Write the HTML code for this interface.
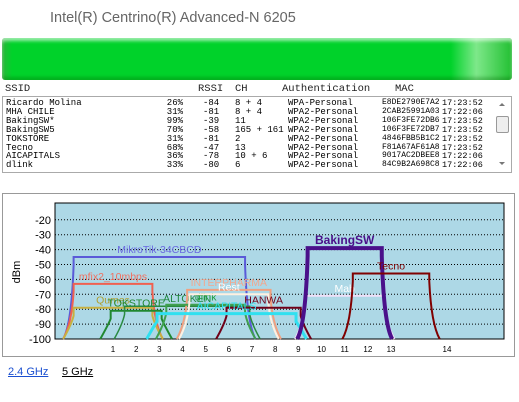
<!DOCTYPE html>
<html><head><meta charset="utf-8">
<style>
body{margin:0;width:519px;height:402px;background:#fff;position:relative;overflow:hidden;font-family:"Liberation Sans",sans-serif}
.abs{position:absolute}
#list{left:2px;top:96px;width:510px;height:77px;border:1px solid #aaa;box-sizing:border-box;font-family:"Liberation Mono",monospace;font-size:9px;line-height:8.9px}
.row{position:absolute;left:0;width:490px;height:9px;white-space:pre}
.row span{position:absolute;top:0}
#hdr{left:0;top:83px;font-family:"Liberation Mono",monospace;font-size:10.5px;color:#222}
#hdr span{position:absolute;white-space:pre}
</style></head><body>
<div class="abs" style="left:50px;top:10px;font-size:14.5px;color:#666">Intel(R) Centrino(R) Advanced-N 6205</div>
<div class="abs" style="left:2px;top:38px;width:510px;height:42px;border-radius:3px;background:linear-gradient(to right,#2bb53a 0%,#00d22a 2%,#00d22a 88%,#7ee88a 93%,#22c032 100%);box-shadow:inset 0 3px 3px rgba(255,255,255,.6),inset 0 -3px 3px rgba(0,100,0,.3)"></div>
<div id="hdr" class="abs">
<span style="left:5px">SSID</span><span style="left:198px">RSSI</span><span style="left:235px">CH</span><span style="left:282px">Authentication</span><span style="left:395px">MAC</span></div>
<div id="list" class="abs"></div>
<div class="abs" style="left:494px;top:98px;width:16px;height:73px">
<div style="position:absolute;left:5px;top:5px;width:0;height:0;border-left:3px solid transparent;border-right:3px solid transparent;border-bottom:3px solid #777"></div>
<div style="position:absolute;left:2px;top:18px;width:11px;height:15px;border:1px solid #999;border-radius:2px;background:#eee"></div>
<div style="position:absolute;left:5px;top:64px;width:0;height:0;border-left:3px solid transparent;border-right:3px solid transparent;border-top:3px solid #777"></div>
</div>
<svg class="abs" style="left:0;top:0" width="519" height="402" id="chart"></svg>
<div class="abs" style="left:8px;top:366px;font-size:11px;color:#1a4fd0;text-decoration:underline">2.4 GHz</div>
<div class="abs" style="left:62px;top:366px;font-size:11px;color:#000;text-decoration:underline">5 GHz</div>
<script>
const rowSsid=["Ricardo Molina","MHA CHILE","BakingSW*","BakingSW5","TOKSTORE","Tecno","AICAPITALS","dlink"];
const rowPct=["26%","31%","99%","70%","31%","68%","36%","33%"];
const rowRssi=["-84","-81","-39","-58","-81","-47","-78","-80"];
const rowCh=["8 + 4","8 + 4","11","165 + 161","2","13","10 + 6","6"];
const rowAuth=["WPA-Personal","WPA2-Personal","WPA2-Personal","WPA2-Personal","WPA2-Personal","WPA2-Personal","WPA2-Personal","WPA2-Personal"];
const rowMac=["E8DE2790E7A2","2CAB25991A03","106F3FE72DB6","106F3FE72DB7","4846FBB5B1C2","F81A67AF61A8","9017AC2DBEE8","84C9B2A698C8"];
const rowTime=["17:23:52","17:22:06","17:23:52","17:23:52","17:23:52","17:23:52","17:22:06","17:22:06"];
const list=document.getElementById('list');
for(let i=0;i<rowSsid.length;i++){
 const r=document.createElement('div');r.className='row';r.style.top=(2+i*8.9)+'px';
 
 
 r.innerHTML=`<span style="left:3px">${rowSsid[i]}</span><span style="left:160px;width:20px;text-align:right">${rowPct[i]}</span><span style="left:200px">${rowRssi[i]}</span><span style="left:232px">${rowCh[i]}</span><span style="left:285px">${rowAuth[i]}</span><span style="left:379px;font-size:8px">${rowMac[i]}</span><span style="left:439px;font-size:8.5px">${rowTime[i]}</span>`;
 list.appendChild(r);
}
// chart data
const yTicks=[-20,-30,-40,-50,-60,-70,-80,-90,-100];
const chTicks=[1,2,3,4,5,6,7,8,9,10,11,12,13,14];
const netNames=["MikroTik-34CBCD","mfix2_10mbps","Qumes","TOKSTORE","ALTOKEN","INTERPHARMA","dlink","Rest","HANWA","AICAPITALS","Mab","BakingSW","Tecno"];
const netCenter=[3,1,1,2,4.2,6,5,6,7.5,5.9,11,11,13];
const netHalf=[3.7,1.7,1.7,1.1,2.7,1.8,1.7,1.7,1.6,3.0,1.7,1.6,1.65];
const netRssi=[-45,-63,-79,-81,-78,-67,-77,-70,-79,-83,-71,-39,-56];
const netColor=["#5a5ad8","#f06050","#c8b040","#208830","#2a8a40","#f0a080","#40a050","#fff0e0","#700018","#30e0f0","#f0e0f8","#4a108a","#800000"];
const netWidth=[2,2,2,2,1.5,2,2,2,2,3,2,4,2];
const labelColor=["#6a6ae0","#f07060","#b0a030","#208830","#208840","#f0a890","#20a040","#fff","#700018","#30e0f0","#fff","#4a108a","#800000"];
const L=55,T=203,R=504,B=339;
const yS=v=>B+(v+100)*(-14.9/10);
const xS=c=>c==14?447:113+(c-1)*23.17;
const svg=document.getElementById('chart');
const NS='http://www.w3.org/2000/svg';
function el(t,a){const e=document.createElementNS(NS,t);for(const k in a)e.setAttribute(k,a[k]);svg.appendChild(e);return e;}
const frame=el('rect',{x:2.5,y:193.5,width:512,height:163,fill:'#fff',stroke:'#999'});


const plot=el('rect',{x:L,y:T,width:R-L,height:B-T,fill:'#add8e6',stroke:'#000','stroke-width':1});


yTicks.forEach(v=>{
 const y=yS(v);
 if(v>-100){const g=el('line',{x1:L,x2:R,y1:y,y2:y,stroke:'#000','stroke-dasharray':'1,2'});
 
 }
 const t=el('text',{x:L-4,y:y+4,'text-anchor':'end','font-size':'11','font-family':'Liberation Sans'});t.textContent=v;
 
 
});
const yt=el('text',{x:20,y:272,'font-size':'11','font-family':'Liberation Sans',transform:'rotate(-90 20 272)','text-anchor':'middle'});yt.textContent='dBm';


chTicks.forEach(c=>{const t=el('text',{x:xS(c),y:352,'text-anchor':'middle','font-size':'8','font-family':'Liberation Sans'});t.textContent=c;
 
 });
for(let i=0;i<netNames.length;i++){
 const c=netCenter[i],h=netHalf[i],yt2=yS(netRssi[i]),yb=B;
 const x1=xS(c-h-0.45),x2=xS(c-h),x3=xS(c+h),x4=xS(c+h+0.45);
 const d=`M${x1},${yb} Q${x2-2},${yb-15} ${x2},${yt2+8} L${x2},${yt2} L${x3},${yt2} L${x3},${yt2+8} Q${x3+2},${yb-15} ${x4},${yb}`;
 const p=el('path',{d,fill:'none',stroke:netColor[i],'stroke-width':netWidth[i]});
 
 
 const t=el('text',{x:xS(c),y:yt2-4,'text-anchor':'middle','font-size':i==11?'12':'10.5','font-weight':i==11?'bold':'normal','font-family':'Liberation Sans',fill:labelColor[i]});
 t.textContent=netNames[i];
 
 
}
</script>
</body></html>
